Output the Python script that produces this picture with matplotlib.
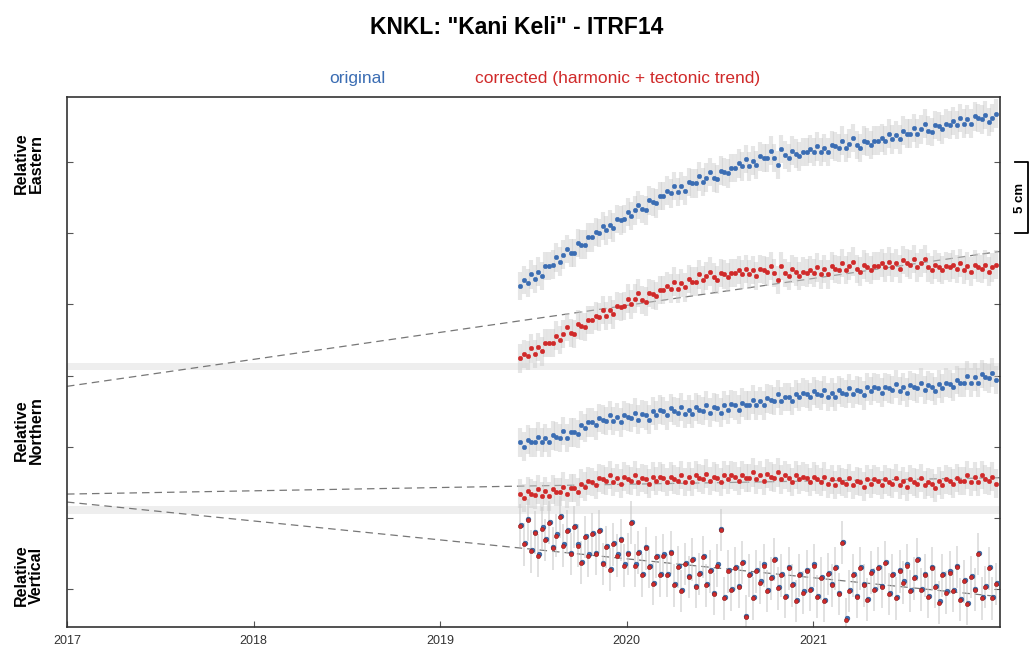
import numpy as np
import matplotlib.pyplot as plt
from matplotlib import transforms

plt.rcParams['font.family'] = ['Liberation Sans', 'DejaVu Sans']

# weekly solutions, relative displacement in cm
east_orig = [
    0.0, 0.4, 0.2, 0.8, 0.5, 1.0, 0.7, 1.4, 1.4, 1.5,
    2.0, 1.7, 2.2, 2.6, 2.3, 2.3, 3.0, 2.9, 2.9, 3.4,
    3.4, 3.8, 3.7, 4.2, 3.9, 4.3, 4.1, 4.7, 4.6, 4.7,
    5.2, 4.9, 5.3, 5.7, 5.4, 5.3, 6.0, 5.9, 5.8, 6.3,
    6.3, 6.7, 6.5, 7.0, 6.6, 7.0, 6.7, 7.3, 7.2, 7.2,
    7.7, 7.3, 7.6, 8.0, 7.6, 7.5, 8.1, 8.0, 7.9, 8.3,
    8.3, 8.6, 8.4, 8.9, 8.4, 8.8, 8.5, 9.1, 9.0, 9.0,
    9.5, 9.0, 8.5, 9.6, 9.2, 9.0, 9.5, 9.3, 9.1, 9.4,
    9.4, 9.6, 9.4, 9.8, 9.4, 9.7, 9.4, 9.9, 9.8, 9.7,
    10.2, 9.7, 10.0, 10.4, 9.9, 9.7, 10.2, 10.1, 9.9, 10.2,
    10.2, 10.4, 10.2, 10.7, 10.3, 10.6, 10.3, 10.9, 10.7, 10.7,
    11.1, 10.7, 11.0, 11.4, 10.9, 10.8, 11.3, 11.2, 11.0, 11.4,
    11.3, 11.6, 11.3, 11.8, 11.4, 11.7, 11.4, 11.9, 11.8, 11.7,
    12.0, 11.5, 11.8, 12.1]
east_corr = [
    0.0, 0.3, 0.2, 0.7, 0.3, 0.8, 0.5, 1.1, 1.1, 1.1,
    1.6, 1.3, 1.7, 2.2, 1.8, 1.7, 2.4, 2.3, 2.2, 2.7,
    2.7, 3.0, 2.9, 3.4, 3.0, 3.4, 3.1, 3.7, 3.6, 3.7,
    4.2, 3.8, 4.2, 4.6, 4.1, 4.0, 4.6, 4.5, 4.4, 4.8,
    4.8, 5.1, 4.9, 5.4, 4.9, 5.3, 5.0, 5.6, 5.4, 5.4,
    5.9, 5.5, 5.8, 6.1, 5.7, 5.5, 6.0, 5.9, 5.7, 6.0,
    6.0, 6.2, 5.9, 6.3, 5.9, 6.2, 5.8, 6.3, 6.2, 6.1,
    6.5, 6.0, 5.5, 6.5, 6.0, 5.8, 6.3, 6.1, 5.8, 6.1,
    6.0, 6.2, 6.0, 6.4, 5.9, 6.3, 5.9, 6.5, 6.3, 6.2,
    6.7, 6.2, 6.5, 6.8, 6.3, 6.1, 6.6, 6.4, 6.2, 6.5,
    6.5, 6.7, 6.4, 6.8, 6.4, 6.7, 6.3, 6.9, 6.7, 6.6,
    7.0, 6.4, 6.7, 7.0, 6.4, 6.2, 6.6, 6.4, 6.2, 6.5,
    6.4, 6.6, 6.3, 6.7, 6.2, 6.5, 6.1, 6.6, 6.4, 6.3,
    6.6, 6.1, 6.4, 6.6]
north_orig = [
    0.1, -0.2, 0.3, 0.1, 0.1, 0.5, 0.1, 0.4, 0.1, 0.6,
    0.5, 0.4, 0.9, 0.4, 0.8, 0.8, 0.7, 1.3, 1.1, 1.5,
    1.5, 1.3, 1.8, 1.7, 1.6, 2.0, 1.6, 1.9, 1.5, 2.0,
    1.9, 1.8, 2.2, 1.7, 2.1, 2.0, 1.7, 2.3, 2.0, 2.4,
    2.3, 2.0, 2.5, 2.3, 2.2, 2.6, 2.1, 2.4, 2.1, 2.6,
    2.4, 2.3, 2.7, 2.2, 2.6, 2.5, 2.2, 2.7, 2.4, 2.8,
    2.7, 2.4, 2.9, 2.7, 2.7, 3.1, 2.7, 3.0, 2.7, 3.2,
    3.1, 3.0, 3.5, 3.0, 3.3, 3.3, 3.0, 3.5, 3.3, 3.6,
    3.5, 3.3, 3.7, 3.5, 3.4, 3.8, 3.3, 3.6, 3.3, 3.8,
    3.6, 3.5, 3.9, 3.5, 3.8, 3.7, 3.4, 4.0, 3.7, 4.0,
    3.9, 3.6, 4.0, 3.9, 3.8, 4.2, 3.7, 4.0, 3.6, 4.1,
    4.0, 3.9, 4.3, 3.8, 4.1, 4.0, 3.7, 4.2, 3.9, 4.3,
    4.2, 4.0, 4.5, 4.3, 4.3, 4.8, 4.3, 4.7, 4.3, 4.9,
    4.7, 4.6, 5.0, 4.5]
north_corr = [
    0.1, -0.2, 0.3, 0.1, 0.0, 0.4, -0.1, 0.3, -0.1, 0.4,
    0.2, 0.2, 0.6, 0.1, 0.5, 0.5, 0.2, 0.8, 0.6, 1.0,
    0.9, 0.7, 1.2, 1.1, 1.0, 1.4, 0.9, 1.2, 0.8, 1.3,
    1.1, 1.0, 1.4, 0.9, 1.2, 1.1, 0.8, 1.3, 1.0, 1.3,
    1.2, 0.9, 1.3, 1.1, 1.0, 1.4, 0.9, 1.3, 0.9, 1.4,
    1.2, 1.1, 1.5, 1.0, 1.3, 1.2, 0.9, 1.4, 1.1, 1.4,
    1.3, 1.0, 1.4, 1.2, 1.2, 1.6, 1.1, 1.4, 1.0, 1.5,
    1.3, 1.2, 1.6, 1.1, 1.4, 1.2, 0.9, 1.4, 1.1, 1.3,
    1.2, 0.9, 1.3, 1.1, 0.9, 1.3, 0.8, 1.1, 0.7, 1.1,
    0.9, 0.8, 1.2, 0.7, 1.0, 0.9, 0.6, 1.1, 0.8, 1.1,
    1.0, 0.7, 1.1, 0.9, 0.8, 1.2, 0.7, 1.0, 0.6, 1.1,
    0.9, 0.8, 1.2, 0.7, 0.9, 0.8, 0.5, 1.0, 0.7, 1.1,
    1.0, 0.8, 1.2, 1.0, 1.0, 1.4, 0.9, 1.3, 0.9, 1.4,
    1.1, 1.0, 1.3, 0.8]
# vertical: original and corrected are almost the same points
vert = [
    0.8, -0.5, 1.2, -1.0, 0.3, -1.3, 0.6, -0.2, 1.0, -0.8,
    0.1, 1.4, -0.6, 0.4, -1.2, 0.7, -0.6, -1.8, 0.0, -1.3,
    0.2, -1.2, 0.4, -1.9, -0.7, -2.3, -0.5, -1.3, -0.2, -2.0,
    -1.2, 1.0, -2.0, -1.1, -2.7, -0.8, -2.1, -3.3, -1.4, -2.7,
    -1.3, -2.7, -1.1, -3.4, -2.1, -3.8, -1.9, -2.8, -1.6, -3.5,
    -2.6, -1.4, -3.4, -2.4, -4.0, -2.0, 0.5, -4.3, -2.4, -3.7,
    -2.2, -3.5, -1.8, -5.6, -2.7, -4.3, -2.4, -3.2, -2.0, -3.8,
    -2.9, -1.6, -3.6, -2.7, -4.2, -2.2, -3.4, -4.5, -2.7, -3.9,
    -2.4, -3.7, -2.0, -4.2, -2.9, -4.5, -2.6, -3.4, -2.2, -4.0,
    -0.4, -5.8, -3.8, -2.7, -4.2, -2.2, -3.4, -4.4, -2.5, -3.7,
    -2.2, -3.5, -1.8, -4.0, -2.7, -4.3, -2.4, -3.2, -2.0, -3.8,
    -2.9, -1.6, -3.7, -2.7, -4.2, -2.2, -3.5, -4.6, -2.7, -3.9,
    -2.5, -3.8, -2.1, -4.4, -3.1, -4.7, -2.8, -3.7, -1.2, -4.3,
    -3.5, -2.2, -4.3, -3.3]

# tectonic trend lines (cm, at 2017.0 and 2022.0)
trend_years = [2017.0, 2022.0]
east_trend = [-1.96, 7.52]
north_trend = [0.07, 1.22]
vert_trend = [2.46, -4.19]

year_ticks = [2017, 2018, 2019, 2020, 2021]

t_start = 2019.43
dates = t_start + np.arange(len(east_orig)) * 7 / 365.25

# vertical position of each series on the shared cm axis
off_e_orig, off_e_corr = 21.3, 16.2
off_n_orig, off_n_corr = 10.2, 6.6
off_u = 3.65

BLUE = '#3b6db3'
RED = '#d02a2a'
ERR = '#c9c9c9'

fig = plt.figure(figsize=(10.34, 6.51), dpi=100)
ax = fig.add_axes([67 / 1034, 24 / 651, 933 / 1034, 530 / 651])

# panel separators
ax.axhspan(15.39, 15.88, color='#eeeeee', lw=0, zorder=0)
ax.axhspan(5.27, 5.83, color='#eeeeee', lw=0, zorder=0)

# trends
for tr_vals, off in [(east_trend, off_e_corr), (north_trend, off_n_corr), (vert_trend, off_u)]:
    ax.plot(trend_years, np.array(tr_vals) + off, ls=(0, (6, 4)), color='#777777', lw=0.9, zorder=1)

series = [
    (east_orig, off_e_orig, BLUE, 1.0),
    (east_corr, off_e_corr, RED, 1.0),
    (north_orig, off_n_orig, BLUE, 1.0),
    (north_corr, off_n_corr, RED, 1.0),
]
for vals, off, col, sig in series:
    y = np.array(vals) + off
    ax.vlines(dates, y - sig, y + sig, color=ERR, lw=3.0, alpha=0.45, zorder=2)
    ax.plot(dates, y, 'o', ms=3.3, color=col, mec=col, mew=0.3, zorder=3)

yu = np.array(vert) + off_u
ax.vlines(dates, yu - 1.5, yu + 1.5, color=ERR, lw=1.3, alpha=0.6, zorder=2)
ax.plot(dates + 0.004, yu + 0.08, 'o', ms=3.4, color=BLUE, mec='#2a4f85', mew=0.4, zorder=3)
ax.plot(dates, yu, 'o', ms=3.0, color=RED, mec='#8a1c1c', mew=0.4, zorder=4)

ax.set_xlim(2017.0, 2022.0)
ax.set_ylim(-2.67, 34.57)
ax.set_xticks(year_ticks)
ax.set_xticklabels([str(y) for y in year_ticks], fontsize=9, color='#333333')
ax.set_yticks(np.arange(0, 31, 5))
ax.set_yticklabels([])
ax.tick_params(axis='both', direction='in', length=4, width=0.8, color='#555555')
ax.tick_params(axis='y', right=True)
ax.tick_params(axis='x', pad=6)
for sp in ax.spines.values():
    sp.set_color('#333333')
    sp.set_linewidth(1.2)

# titles
fig.text(0.5, 1 - 27 / 651, 'KNKL: "Kani Keli" - ITRF14', ha='center', va='center',
         fontsize=16.5, fontweight='bold')
fig.text(357 / 1034, 1 - 79 / 651, 'original', ha='center', va='center', fontsize=12.5, color=BLUE)
fig.text(618 / 1034, 1 - 79 / 651, 'corrected (harmonic + tectonic trend)', ha='center',
         va='center', fontsize=12.5, color=RED)

# component labels
for label, ypx in [('Relative\nEastern', 163), ('Relative\nNorthern', 430), ('Relative\nVertical', 575)]:
    fig.text(29 / 1034, 1 - ypx / 651, label, rotation=90, ha='center', va='center',
             fontsize=11.5, fontweight='bold', linespacing=1.0)

# 5 cm scale bar
tr = transforms.blended_transform_factory(ax.transAxes, ax.transData)
x0, x1 = (1015 - 67) / 933, (1028 - 67) / 933
ax.plot([x0, x1, x1, x0], [30, 30, 25, 25], color='black', lw=1.3, transform=tr, clip_on=False)
ax.text((1020 - 67) / 933, 27.5, '5 cm', rotation=90, ha='center', va='center', fontsize=9.5,
        fontweight='bold', transform=tr)

fig.savefig('out.png', dpi=100)
